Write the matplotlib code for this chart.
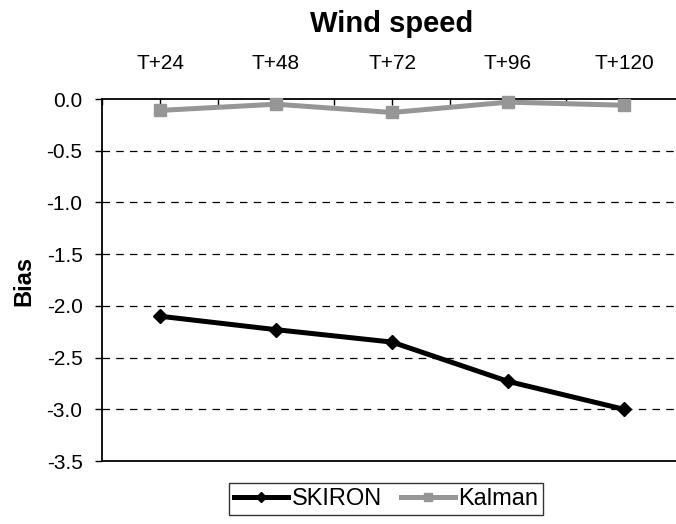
import numpy as np
import matplotlib.pyplot as plt

# 데이터
horizons = ['T+24', 'T+48', 'T+72', 'T+96', 'T+120']
skiron = [-2.10, -2.23, -2.35, -2.73, -3.00]
kalman = [-0.11, -0.05, -0.13, -0.03, -0.06]

plt.rcParams['font.family'] = ['Liberation Sans', 'DejaVu Sans']

fig = plt.figure(figsize=(6.76, 5.24), dpi=100)
ax = fig.add_axes([0.1509, 0.1202, 0.8580, 0.6908])

x = np.arange(len(horizons))
ax.plot(x, skiron, color='black', lw=3.6, marker='D', ms=7, label='SKIRON',
        clip_on=False, zorder=3)
ax.plot(x, kalman, color='#969696', lw=3.6, marker='s', ms=8, label='Kalman',
        clip_on=False, zorder=3)

ax.set_xlim(-0.5, 4.5)
ax.set_ylim(-3.5, 0.0)
yt = np.arange(-3.5, 0.01, 0.5)
ax.set_yticks(yt)
ax.set_yticklabels([f'{v:.1f}' for v in yt])

# x축 라벨은 위쪽에 표시
ax.xaxis.tick_top()
ax.set_xticks(x)
ax.set_xticklabels(horizons)
ax.set_xticks(np.arange(-0.5, 4.6, 0.5), minor=True)
ax.tick_params(axis='x', which='both', direction='in', length=4.5, width=1)
ax.tick_params(axis='x', which='major', pad=19, labelsize=15)
ax.tick_params(axis='y', direction='out', length=5, width=1, pad=9,
               labelsize=15)

# 점선 그리드
for v in np.arange(-3.0, -0.4, 0.5):
    ax.axhline(v, color='black', lw=0.9, ls=(0, (6, 5)), zorder=0)

ax.spines['right'].set_visible(False)
for s in ['left', 'top', 'bottom']:
    ax.spines[s].set_linewidth(1.3)

fig.text(0.58, 1 - 32 / 524, 'Wind speed', fontsize=21, fontweight='bold',
         ha='center', va='baseline')
fig.text(24 / 676, 1 - 281 / 524, 'Bias', fontsize=17, fontweight='bold',
         rotation=90, ha='center', va='center')

leg = ax.legend(loc='center', bbox_to_anchor=(0.49, -0.105), ncol=2,
                frameon=True, fancybox=False, edgecolor='black', fontsize=17,
                handlelength=2.3, columnspacing=0.8, handletextpad=0.15,
                borderpad=0.2, borderaxespad=0)
leg.get_frame().set_linewidth(1.0)
for h in leg.legend_handles:
    h.set_markersize(5.5)

fig.savefig('out.png', dpi=100)
